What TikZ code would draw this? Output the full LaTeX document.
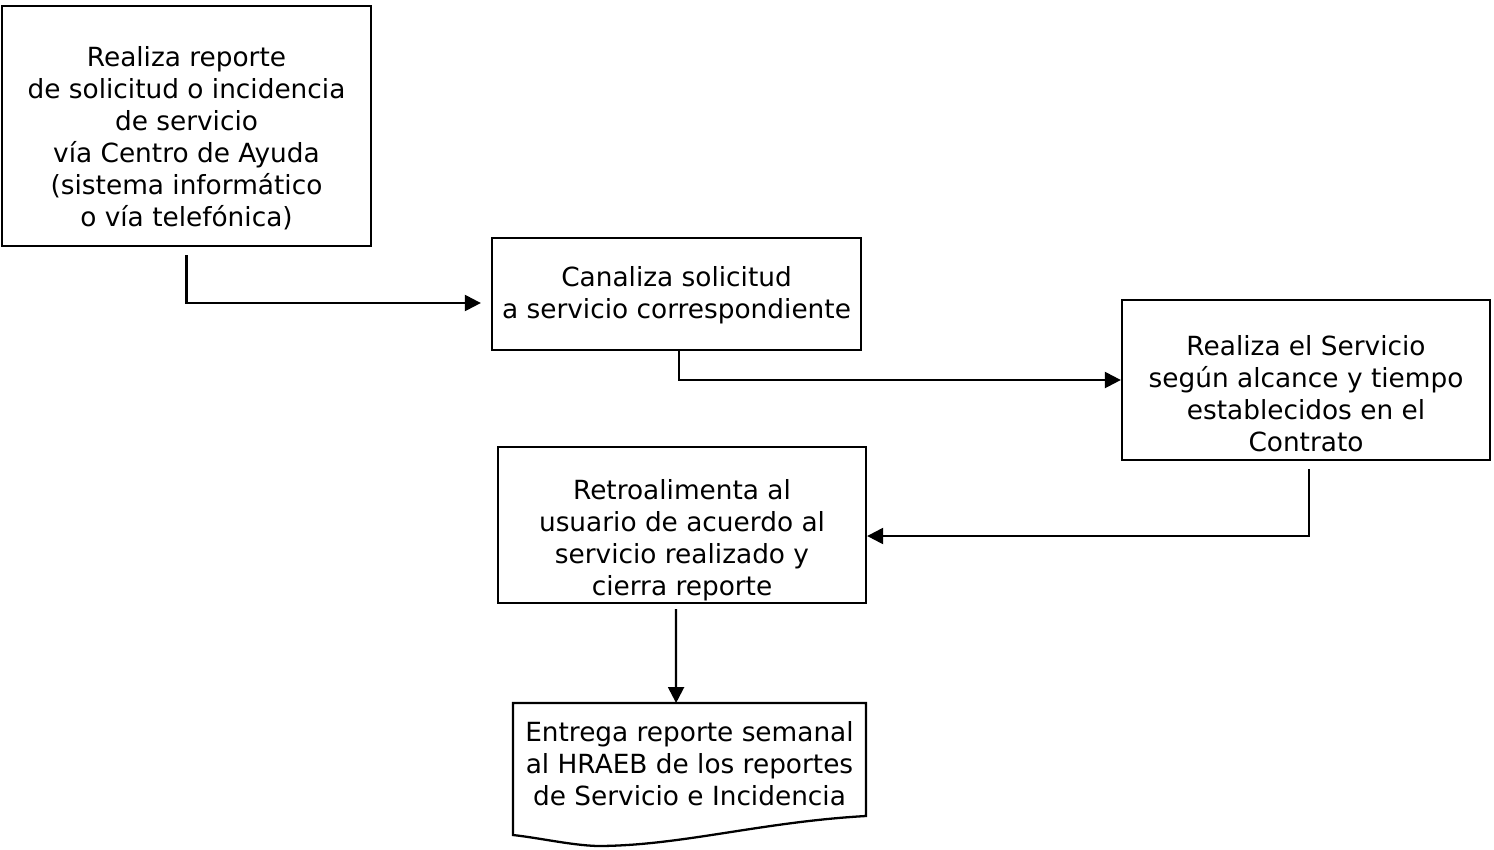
\documentclass[tikz,border=0pt]{standalone}
\usepackage{fontspec}
\setmainfont{DejaVu Sans}
\usetikzlibrary{calc,arrows.meta}
\tikzset{
	caja/.style={draw,line width=1.3pt,inner sep=0pt},
	texto/.style={align=center,font=\fontsize{15}{18.2}\selectfont,inner sep=0pt},
	flecha/.style={line width=1.3pt,-{Triangle[length=0.32cm,width=0.32cm]}}
}

\begin{document}
\begin{tikzpicture}[x=0.02cm,y=-0.02cm]
					\useasboundingbox (0,0) rectangle (1494,849);
					%CAJAS
					\node[caja,minimum width=369*0.02cm,minimum height=240*0.02cm] (b1) at (186.5,126) {};
					\node[caja,minimum width=369*0.02cm,minimum height=112*0.02cm] (b2) at (676.5,294) {};
					\node[caja,minimum width=368*0.02cm,minimum height=160*0.02cm] (b3) at (1306,380) {};
					\node[caja,minimum width=368*0.02cm,minimum height=156*0.02cm] (b4) at (682,525) {};
					%DOCUMENTO
					\draw[line width=1.3pt] (513,703) coordinate (d1) -- (866,703) coordinate (d2) -- (866,816)
						.. controls (760,822) and (680,846) .. (597,846)
						.. controls (570,845) and (540,838) .. (513,835) -- cycle;
					%TEXTOS
					\node[texto] (t1) at (186.5,138) {Realiza reporte\\de solicitud o incidencia\\de servicio\\vía Centro de Ayuda\\(sistema informático\\o vía telefónica)};
					\node[texto] (t2) at (676.5,295) {Canaliza solicitud\\a servicio correspondiente};
					\node[texto] (t3) at (1306,394) {Realiza el Servicio\\según alcance y tiempo\\establecidos en el\\Contrato};
					\node[texto] (t4) at (682,540) {Retroalimenta al\\usuario de acuerdo al\\servicio realizado y\\cierra reporte};
					\node[texto] (t5) at (689.5,764) {Entrega reporte semanal\\al HRAEB de los reportes\\de Servicio e Incidencia};
					%FLECHAS
					\draw[flecha] ($(b1.south)+(0,8)$) |- ($(b2.west)+(-10,9)$);
					\draw[flecha] ($(b2.south)+(2.5,0)$) |- (b3.west);
					\draw[flecha] ($(b3.south)+(3,8)$) |- ($(b4.east)+(0,11)$);
					\draw[flecha] ($(b4.south)+(-6,5)$) -- ($(d1)!0.462!(d2)$);
	  \end{tikzpicture}
\end{document}
